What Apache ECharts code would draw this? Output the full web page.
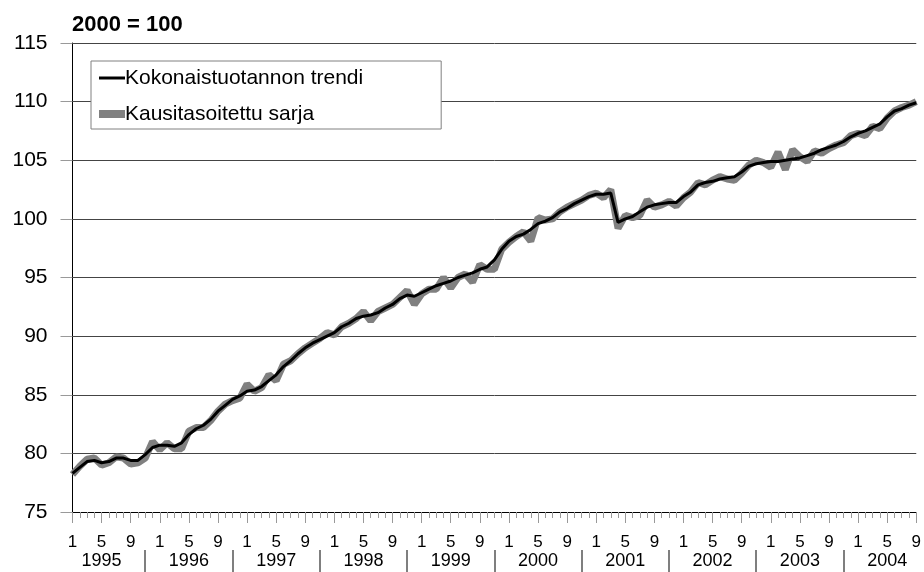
<!DOCTYPE html>
<html>
<head>
<meta charset="utf-8">
<script src="https://cdn.jsdelivr.net/npm/echarts@6/dist/echarts.min.js"></script>
<style>
  html, body { margin: 0; padding: 0; background: #fff; }
  #chart { width: 924px; height: 572px; }
</style>
</head>
<body>
<div id="chart"></div>
<script>
// months Jan 1995 .. Sep 2004
const years = ['1995', '1996', '1997', '1998', '1999', '2000', '2001', '2002', '2003', '2004'];
const monthTicks = ['1', '2', '3', '4', '5', '6', '7', '8', '9', '10', '11', '12'];
const yTicks = [75, 80, 85, 90, 95, 100, 105, 110, 115];

// Kokonaistuotannon trendi
const trend = [
  78.3, 78.8, 79.3, 79.4, 79.2, 79.3, 79.6, 79.6, 79.4, 79.4, 79.9, 80.5,
  80.7, 80.7, 80.6, 80.9, 81.6, 82.1, 82.4, 82.9, 83.6, 84.1, 84.6, 84.9,
  85.3, 85.4, 85.7, 86.2, 86.7, 87.4, 87.9, 88.5, 89.0, 89.4, 89.7, 90.0,
  90.3, 90.8, 91.1, 91.5, 91.7, 91.8, 92.0, 92.4, 92.7, 93.2, 93.5, 93.4,
  93.7, 94.0, 94.3, 94.5, 94.7, 95.0, 95.2, 95.4, 95.7, 95.9, 96.5, 97.4,
  98.1, 98.5, 98.7, 99.1, 99.6, 99.8, 100.1, 100.6, 100.9, 101.3, 101.6, 101.9,
  102.1, 102.1, 102.2, 99.7, 100.0, 100.2, 100.6, 101.0, 101.2, 101.3, 101.4, 101.4,
  101.9, 102.3, 102.9, 103.1, 103.2, 103.4, 103.5, 103.6, 104.0, 104.5, 104.7, 104.8,
  104.9, 104.9, 105.0, 105.1, 105.2, 105.4, 105.6, 105.9, 106.1, 106.3, 106.6, 107.0,
  107.3, 107.5, 107.8, 108.1, 108.7, 109.2, 109.4, 109.7, 109.9
];

// Kausitasoitettu sarja
const adjusted = [
  78.2, 78.9, 79.5, 79.6, 79.0, 79.2, 79.7, 79.6, 79.1, 79.2, 79.6, 81.0,
  80.3, 80.9, 80.4, 80.4, 81.9, 82.2, 82.2, 82.8, 83.6, 84.2, 84.5, 84.7,
  85.9, 85.3, 85.6, 86.7, 86.2, 87.6, 87.9, 88.5, 89.0, 89.4, 89.8, 90.3,
  90.1, 90.8, 91.1, 91.5, 92.1, 91.3, 92.1, 92.4, 92.7, 93.3, 93.9, 92.7,
  93.6, 94.0, 94.0, 95.0, 94.1, 95.0, 95.3, 94.6, 96.1, 95.7, 95.7, 97.4,
  98.0, 98.5, 98.9, 98.1, 100.1, 99.9, 100.0, 100.6, 101.0, 101.3, 101.6, 102.0,
  102.2, 101.8, 102.5, 99.2, 100.3, 100.1, 100.3, 101.6, 101.0, 101.2, 101.5, 101.1,
  101.8, 102.3, 103.1, 102.9, 103.3, 103.6, 103.4, 103.3, 103.9, 104.6, 105.0, 104.8,
  104.4, 105.7, 104.2, 105.9, 105.3, 104.9, 105.8, 105.6, 106.0, 106.3, 106.5, 107.1,
  107.3, 107.1, 107.9, 107.7, 108.6, 109.2, 109.5, 109.7, 110.0
];

const categories = [];
for (let i = 0; i < trend.length; i++) {
  categories.push(monthTicks[i % 12]);
}

const FONT = "'Liberation Sans', Arial, sans-serif";

const chart = echarts.init(document.getElementById('chart'), null, { renderer: 'canvas' });

const baseX = {
  type: 'category',
  data: categories,
  boundaryGap: false,
  position: 'bottom',
  axisLine: { show: false, onZero: false },
  axisTick: { show: false },
  axisLabel: { show: false },
  splitLine: { show: false }
};

chart.setOption({
  animation: false,
  backgroundColor: '#fff',
  title: {
    text: '2000 = 100',
    left: 72,
    top: 14,
    padding: 0,
    textStyle: { fontFamily: FONT, fontSize: 22, fontWeight: 'bold', color: '#000' }
  },
  legend: {
    orient: 'vertical',
    left: 91,
    top: 61,
    padding: [5, 78, 3, 4],
    itemGap: 12,
    itemWidth: 26,
    itemHeight: 14,
    backgroundColor: '#fff',
    borderColor: '#808080',
    borderWidth: 1,
    borderRadius: 0,
    itemStyle: { opacity: 0 },
    textStyle: {
      fontFamily: FONT, fontSize: 21, color: '#000', lineHeight: 24,
      padding: [0, 0, 0, -5]
    },
    data: [
      { name: 'Kokonaistuotannon trendi', lineStyle: { width: 3, color: '#000' } },
      { name: 'Kausitasoitettu sarja', lineStyle: { width: 8, color: '#808080' } }
    ]
  },
  grid: { left: 72.5, right: 0.5, top: 43, bottom: 60, containLabel: false },
  xAxis: [
    Object.assign({}, baseX, {
      axisLine: { show: true, onZero: false, lineStyle: { color: '#000', width: 1 } },
      axisTick: { show: true, interval: 0, length: 6, lineStyle: { color: '#999' } },
      axisLabel: {
        show: true, interval: 3, margin: 22,
        fontFamily: FONT, fontSize: 17, color: '#000'
      }
    }),
    Object.assign({}, baseX, {
      axisTick: { show: true, interval: 3, length: 11, lineStyle: { color: '#999' } }
    }),
    Object.assign({}, baseX, {
      axisLabel: {
        show: true, margin: 40,
        interval: (i) => i % 12 === 4,
        formatter: (v, i) => years[Math.floor(i / 12)],
        fontFamily: FONT, fontSize: 18, color: '#000'
      }
    }),
    Object.assign({}, baseX, {
      offset: 38,
      axisTick: {
        show: true, length: 22,
        interval: (i) => i % 12 === 10,
        lineStyle: { color: '#555', width: 1.5 }
      }
    })
  ],
  yAxis: {
    type: 'value',
    min: yTicks[0],
    max: yTicks[yTicks.length - 1],
    interval: 5,
    axisLine: { show: true, lineStyle: { color: '#000', width: 1 } },
    axisTick: { show: true, length: 12, lineStyle: { color: '#999' } },
    axisLabel: { margin: 25, fontFamily: FONT, fontSize: 21, color: '#000' },
    splitLine: { show: true, lineStyle: { color: '#444', width: 1 } }
  },
  series: [
    {
      name: 'Kausitasoitettu sarja',
      type: 'line',
      xAxisIndex: 0,
      data: adjusted,
      symbol: 'none',
      lineStyle: { color: '#808080', width: 7 },
      itemStyle: { color: '#808080' },
      z: 2
    },
    {
      name: 'Kokonaistuotannon trendi',
      type: 'line',
      xAxisIndex: 0,
      data: trend,
      symbol: 'none',
      lineStyle: { color: '#000', width: 3 },
      itemStyle: { color: '#000' },
      z: 3
    }
  ]
});
</script>
</body>
</html>
